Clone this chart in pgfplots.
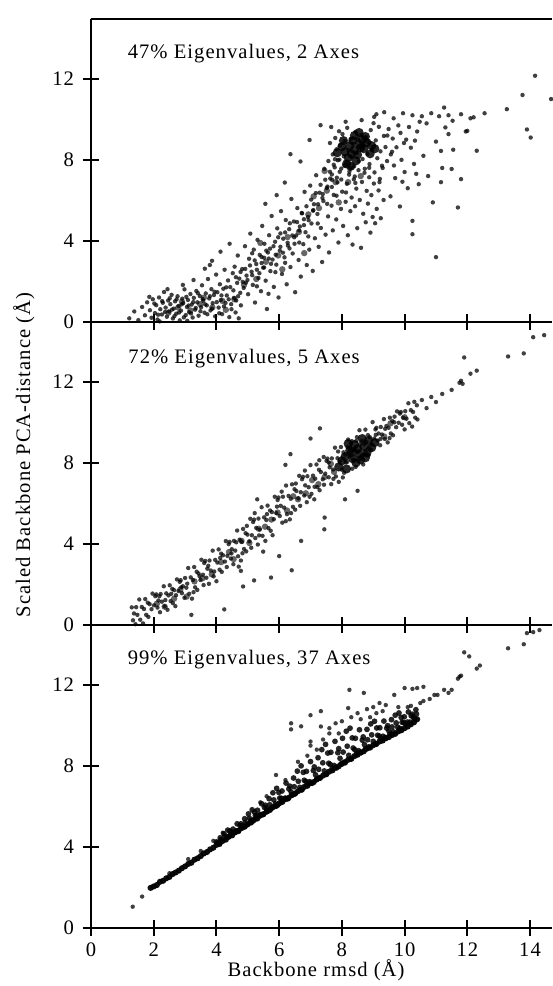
\documentclass[border=0pt]{standalone}
\usepackage{fontspec}
\setmainfont{Liberation Serif}[LetterSpace=5]
\usepackage{pgfplots}
\usepackage{pgfplotstable}
\pgfplotsset{compat=1.18}

% panel 1: 47% eigenvalues, 2 axes
\pgfplotstableread{
x y
1.22 0.18
1.38 0.52
1.51 0.09
1.63 0.74
1.72 0.33
1.79 0.97
1.88 0.58
1.93 0.21
1.97 1.12
2.04 0.44
2.08 0.83
2.12 0.12
2.17 1.21
2.21 0.63
2.26 0.37
2.29 0.95
2.33 1.48
2.38 0.71
2.42 0.26
2.46 1.06
2.49 0.52
2.53 0.88
2.57 1.34
2.61 0.17
2.64 0.66
2.68 1.02
2.72 0.41
2.76 1.27
2.79 0.79
2.83 0.08
2.87 0.56
2.91 1.15
2.94 0.93
2.98 1.61
3.02 0.34
3.06 0.74
3.09 1.09
3.13 0.48
3.17 1.38
3.21 0.86
3.24 0.22
3.28 1.19
3.32 0.61
3.36 1.53
3.39 0.97
3.43 0.31
3.47 1.28
3.51 0.73
3.54 1.81
3.58 1.04
3.62 0.46
3.66 1.41
3.69 0.82
3.73 2.12
3.77 1.16
3.81 0.57
3.84 1.62
3.88 0.93
3.92 1.33
3.96 0.28
3.99 2.34
4.03 1.47
4.07 0.71
4.11 1.86
4.14 1.08
4.18 0.39
4.22 1.64
4.26 2.58
4.29 0.94
4.33 1.31
4.37 2.05
4.41 0.24
4.44 1.72
4.48 0.63
4.52 2.41
4.56 1.19
4.61 0.47
4.66 1.93
4.71 0.18
4.76 1.44
2.44 1.62
2.93 1.83
3.27 2.07
3.63 2.63
3.07 0.06
2.19 0.03
1.86 1.24
3.86 3.02
4.13 3.47
3.79 2.81
4.58 2.73
4.63 1.06
4.68 3.28
4.73 2.14
4.78 0.82
4.82 2.61
4.87 1.68
4.91 3.74
4.96 2.29
5.01 1.37
5.04 3.12
5.08 4.36
5.12 2.48
5.16 1.83
5.19 3.57
5.23 0.96
5.27 2.86
5.31 4.05
5.34 2.17
5.38 3.31
5.42 1.52
5.46 4.74
5.49 2.68
5.53 3.86
5.57 2.04
5.61 0.64
5.64 3.43
5.68 4.28
5.72 2.51
5.76 5.23
5.79 3.08
5.83 1.73
5.87 3.96
5.91 2.83
5.94 4.62
5.98 1.21
6.02 3.52
6.06 5.47
6.09 2.37
6.13 4.11
6.17 3.19
6.21 5.03
6.24 1.86
6.28 3.77
6.32 4.58
6.36 2.71
6.39 6.07
6.43 3.38
6.47 4.96
6.51 1.47
6.54 4.27
6.58 5.62
6.62 3.06
6.66 4.71
6.69 2.24
6.73 5.36
6.77 3.84
6.81 6.42
6.84 4.43
6.88 2.81
6.92 5.18
6.96 3.57
6.99 6.73
7.03 4.86
7.07 2.52
7.11 5.81
7.14 4.13
7.18 7.24
7.22 5.33
7.26 3.71
7.29 6.38
7.33 4.64
7.37 2.96
7.41 5.97
7.44 7.56
7.48 4.31
7.52 6.61
7.56 5.21
7.59 3.43
7.63 7.08
7.67 5.74
7.71 4.52
7.74 6.27
7.78 8.03
7.82 5.06
7.86 6.89
7.89 3.92
7.93 7.41
7.97 5.58
8.01 6.43
8.04 4.74
8.08 7.71
8.12 5.93
8.16 6.82
8.19 4.28
8.23 7.27
8.27 5.47
8.31 6.14
8.34 3.82
8.38 7.04
8.42 5.71
8.46 6.58
8.49 4.63
8.53 7.49
8.57 6.02
8.61 3.66
8.64 6.91
8.68 5.34
8.72 7.36
8.76 4.92
8.79 6.47
8.83 5.84
8.87 7.14
8.91 4.41
8.94 6.26
8.98 5.18
9.02 6.83
9.06 4.87
9.11 5.58
9.17 6.49
9.24 5.12
9.33 6.02
5.52 3.17
5.71 3.62
5.88 2.46
6.04 4.37
6.19 2.92
6.33 3.63
6.48 4.18
6.64 3.92
6.79 5.07
6.93 4.22
7.08 5.49
7.23 4.86
7.38 6.12
7.53 5.83
7.68 6.66
7.83 6.23
7.98 7.03
8.13 6.39
8.28 7.58
8.43 6.86
4.94 1.94
5.14 3.39
5.29 1.76
5.44 2.91
5.66 1.39
6.36 8.28
6.68 7.92
6.97 8.98
7.32 9.71
5.92 6.26
6.18 6.88
5.56 5.83
4.42 3.86
7.62 8.83
7.66 9.62
7.71 8.27
7.74 7.76
7.79 9.08
7.83 8.52
7.87 7.98
7.91 9.41
7.94 8.71
7.98 7.57
8.02 9.27
8.06 8.18
8.09 8.93
8.13 7.84
8.17 9.58
8.21 8.46
8.24 7.42
8.28 9.03
8.32 8.12
8.36 8.79
8.39 7.68
8.43 9.38
8.47 8.33
8.51 9.02
8.54 7.93
8.58 8.61
8.62 9.24
8.66 8.04
8.69 8.73
8.73 7.56
8.77 9.12
8.81 8.29
8.84 8.87
8.88 7.79
8.92 9.47
8.96 8.49
9.01 9.81
9.04 7.38
9.08 8.96
9.13 8.08
9.18 9.63
9.23 8.42
9.28 7.71
9.34 9.18
9.39 8.63
9.44 7.94
9.49 9.52
9.56 8.27
8.12 9.88
8.63 9.96
9.03 10.12
7.57 7.94
7.68 7.28
8.41 7.18
8.87 7.61
9.21 7.06
9.10 10.25
9.20 6.90
9.30 7.60
9.35 10.35
9.45 9.20
9.55 6.20
9.60 8.40
9.65 10.05
9.70 7.10
9.80 9.70
9.85 5.70
9.90 8.00
9.95 10.30
10.00 7.40
10.05 9.00
10.10 6.60
10.20 8.60
10.25 10.20
10.30 7.80
10.25 4.99
10.25 4.33
10.40 9.40
10.45 6.80
10.55 10.15
10.60 8.20
10.70 9.80
10.75 7.20
10.85 10.30
10.90 5.90
11.00 8.90
11.10 10.15
11.20 7.60
11.30 9.60
11.40 10.20
11.55 8.50
11.70 5.65
11.80 10.25
11.95 9.40
12.10 10.05
12.30 8.45
11.00 3.20
11.26 10.58
11.53 9.93
11.16 6.90
11.50 7.55
11.80 7.05
12.00 9.43
12.20 10.10
11.16 8.44
11.40 9.27
12.55 10.30
13.26 10.50
13.76 11.20
14.16 12.15
14.67 11.00
13.90 9.50
14.02 9.10
2.02 0.91
2.14 0.36
2.27 1.03
2.36 0.49
2.51 1.17
2.58 0.61
2.66 0.29
2.73 1.12
2.81 0.47
2.89 0.87
2.96 0.23
3.04 1.24
3.11 0.81
3.19 0.42
3.26 0.98
3.34 0.69
3.41 1.42
3.49 0.53
3.56 1.13
3.64 0.87
3.71 0.38
3.79 1.27
3.86 0.66
3.94 1.49
4.01 0.98
4.09 0.43
4.16 1.31
4.24 0.77
4.31 1.71
4.39 1.12
4.47 0.88
4.54 1.56
4.62 2.21
4.69 1.27
4.77 2.47
4.84 1.98
4.92 2.62
4.99 2.07
5.07 2.79
5.14 2.31
5.22 3.04
5.29 2.58
5.37 2.41
5.44 3.21
5.52 2.69
5.59 3.52
5.67 3.13
5.74 2.87
5.82 3.74
5.89 3.32
5.97 4.18
6.04 3.71
6.12 3.42
6.19 4.42
6.27 3.91
6.34 4.87
6.42 4.27
6.49 3.86
6.57 4.93
6.64 4.52
6.72 5.38
6.79 4.78
6.87 5.71
6.94 5.02
7.02 6.04
7.09 5.52
7.17 6.36
7.24 5.81
7.32 6.77
7.39 6.31
7.47 7.02
7.54 6.68
7.62 7.41
7.69 7.01
7.77 7.63
7.84 7.12
7.92 8.01
9.62 9.05
9.74 8.62
9.87 9.33
9.98 8.83
10.14 9.62
10.33 8.95
10.48 9.88
9.66 7.72
9.93 6.92
10.37 7.31
}\panelA

\pgfplotstableread{
x y
8.10 8.40
8.25 8.70
8.40 8.50
8.55 8.80
8.70 8.55
8.35 8.95
8.50 8.25
8.65 9.00
8.80 8.85
8.20 8.10
8.45 7.95
8.90 8.30
8.00 8.65
8.60 8.60
8.30 8.30
8.75 9.15
8.15 7.80
8.40 9.20
8.95 8.70
8.05 8.95
7.85 8.35
9.05 8.55
8.55 9.35
8.28 7.68
}\panelAcore

\pgfplotstableread{
x y
7.52 6.48
7.27 5.62
6.93 5.31
6.63 4.44
6.27 4.19
5.97 3.28
5.58 2.97
5.27 2.12
4.88 1.83
4.57 1.12
4.19 1.04
3.87 0.72
3.48 0.88
3.17 0.57
2.78 0.71
2.47 0.46
7.80 6.90
7.45 7.45
6.10 2.60
6.80 3.40
7.10 6.20
5.40 3.90
2.90 1.00
3.60 1.20
4.30 0.60
7.90 5.90
8.20 6.90
8.60 7.20
}\panelAmid

% panel 2: 72% eigenvalues, 5 axes
\pgfplotstableread{
x y
1.30 0.87
1.34 0.23
1.37 0.57
1.42 0.04
1.44 0.88
1.48 0.50
1.54 1.26
1.57 0.26
1.62 0.89
1.66 0.08
1.69 0.79
1.73 1.28
1.76 0.50
1.81 1.10
1.83 0.40
1.87 1.03
1.93 0.78
1.96 1.55
2.01 0.97
2.05 1.42
2.08 1.51
2.12 0.86
2.15 1.21
2.20 0.63
2.22 1.53
2.26 1.15
2.32 1.91
2.35 0.92
2.40 1.56
2.44 0.75
2.47 1.46
2.51 1.96
2.54 1.18
2.59 1.78
2.61 1.08
2.65 1.72
2.71 1.47
2.74 2.25
2.79 1.68
2.83 2.13
2.86 2.21
2.90 1.57
2.93 1.91
2.98 1.34
3.00 2.32
3.04 1.84
3.10 2.81
3.13 1.54
3.18 2.35
3.22 1.30
3.25 2.22
3.29 2.86
3.32 1.86
3.37 2.63
3.39 1.73
3.43 2.54
3.49 2.22
3.52 3.22
3.57 2.48
3.61 3.06
3.64 3.16
3.68 2.33
3.71 2.78
3.76 2.03
3.78 3.18
3.82 2.69
3.88 3.67
3.91 2.40
3.96 3.21
4.00 2.16
4.03 3.08
4.07 3.73
4.10 2.73
4.15 3.52
4.17 2.62
4.21 3.44
4.27 3.13
4.30 4.14
4.35 3.41
4.39 3.99
4.42 4.10
4.46 3.28
4.49 3.74
4.54 3.00
4.56 4.15
4.60 3.67
4.66 4.66
4.69 3.39
4.74 4.21
4.78 3.18
4.81 4.10
4.85 4.74
4.88 3.75
4.93 4.53
4.95 3.63
4.99 4.46
5.05 4.13
5.08 5.24
5.13 4.43
5.17 5.08
5.20 5.20
5.24 4.29
5.27 4.79
5.32 3.97
5.34 5.25
5.38 4.71
5.44 5.81
5.47 4.40
5.52 5.31
5.56 4.15
5.59 5.18
5.63 5.89
5.66 4.78
5.71 5.65
5.73 4.65
5.77 5.57
5.83 5.22
5.86 6.33
5.91 5.52
5.95 6.17
5.98 6.29
6.02 5.38
6.05 5.88
6.10 5.05
6.12 6.33
6.16 5.79
6.22 6.88
6.25 5.47
6.30 6.37
6.34 5.21
6.37 6.23
6.41 6.94
6.44 5.83
6.49 6.70
6.51 5.69
6.55 6.61
6.61 6.25
6.64 7.36
6.69 6.55
6.73 7.19
6.76 7.31
6.80 6.39
6.83 6.89
6.88 6.06
6.90 7.34
6.94 6.80
7.00 7.89
7.03 6.47
7.08 7.37
7.12 6.20
7.15 7.22
7.19 7.92
7.22 6.80
7.27 7.66
7.29 6.65
7.33 7.55
7.39 7.19
7.42 8.29
7.47 7.47
7.51 8.10
7.54 8.21
7.58 7.29
7.61 7.78
7.66 6.95
7.68 8.22
7.72 7.67
7.78 8.75
7.81 7.33
7.86 8.23
7.90 7.06
7.93 8.07
7.97 8.78
8.00 7.66
8.05 8.52
8.07 7.51
8.11 8.41
8.17 8.05
8.20 9.15
8.25 8.33
8.29 8.96
8.32 9.07
8.36 8.15
8.39 8.64
8.44 7.80
8.46 9.08
8.50 8.53
8.56 9.61
8.59 8.19
8.64 9.08
8.68 7.92
8.71 8.93
8.75 9.64
8.78 8.52
8.83 9.37
8.85 8.37
8.89 9.27
8.95 8.91
8.98 10.01
9.03 9.20
9.07 9.65
9.10 9.73
9.14 9.10
9.17 9.45
9.22 8.87
9.24 9.77
9.28 9.40
9.34 10.16
9.37 9.18
9.42 9.82
9.46 9.01
9.49 9.73
9.53 10.23
9.56 9.45
9.61 10.06
9.63 9.36
9.67 10.00
9.73 9.76
9.76 10.54
9.81 9.98
9.85 10.43
9.88 10.51
9.92 9.88
9.95 10.23
10.00 9.65
10.02 10.55
10.06 10.18
10.12 10.94
10.15 9.96
10.20 10.60
10.24 9.79
10.27 10.51
10.31 11.01
10.34 10.23
10.39 10.84
10.41 10.14
10.55 11.10
10.70 10.70
10.85 11.25
11.00 11.00
11.20 11.40
11.50 11.60
11.75 11.95
11.80 12.05
11.85 11.90
12.10 12.40
12.30 12.55
11.90 13.20
13.30 13.25
13.80 13.40
14.10 14.20
14.45 14.30
6.36 8.43
7.00 9.20
7.30 9.70
6.20 7.90
5.30 6.20
6.40 2.70
5.74 2.34
6.70 4.15
7.44 4.72
8.50 6.62
7.45 5.30
8.10 6.20
6.00 3.40
4.85 1.90
5.20 2.20
4.25 0.77
3.20 0.50
4.78 2.67
2.18 1.42
2.37 1.23
2.56 1.54
2.69 0.93
2.88 1.86
3.07 2.04
3.27 1.62
3.46 2.41
3.59 1.97
3.74 2.92
3.93 2.64
4.12 3.31
4.33 2.86
4.48 3.53
4.63 4.08
4.71 2.88
4.83 3.54
4.97 4.89
5.11 3.81
5.22 5.52
5.36 4.42
5.49 3.62
5.61 5.47
5.79 4.43
5.93 5.84
6.08 6.58
6.21 5.12
6.38 5.52
6.53 6.98
6.67 5.88
6.82 7.62
6.97 6.33
7.13 6.82
7.28 8.13
7.43 6.92
7.58 8.02
7.73 7.21
7.88 8.56
8.03 7.28
8.18 8.77
8.33 7.71
8.48 9.27
8.63 8.36
8.78 9.02
8.93 8.64
9.08 9.38
9.23 9.18
9.38 9.68
9.52 9.22
9.68 10.28
8.42 8.68
8.57 8.92
8.72 8.41
8.87 8.73
8.27 8.76
8.12 8.02
}\panelB

\pgfplotstableread{
x y
8.10 8.30
8.25 8.60
8.40 8.90
8.55 8.45
8.70 8.80
8.85 9.10
8.35 8.20
8.50 8.70
8.65 9.20
8.80 8.50
8.20 8.95
8.95 8.75
8.00 8.10
8.45 8.00
8.60 8.15
7.90 7.80
8.30 8.50
8.75 8.25
9.05 9.00
8.15 7.70
}\panelBcore

\pgfplotstableread{
x y
5.05 4.05
5.35 4.75
5.55 4.85
5.95 5.55
6.25 5.65
6.45 6.35
6.85 6.50
7.05 7.15
7.45 7.30
7.65 7.95
4.55 3.25
4.15 3.10
3.85 2.50
3.55 2.30
3.05 1.40
2.65 1.30
2.35 0.90
9.35 9.30
9.55 9.95
10.00 10.25
2.10 1.05
2.85 1.75
3.30 2.15
4.40 3.60
4.80 4.15
5.75 5.20
6.60 6.20
7.25 6.95
7.75 7.55
}\panelBmid

% panel 3: 99% eigenvalues, 37 axes
\pgfplotstableread{
x y
1.33 1.05
1.63 1.55
2.50 2.70
3.10 3.40
3.50 3.80
3.90 4.30
4.20 4.70
5.40 6.20
5.60 6.50
5.90 7.55
6.20 7.30
6.38 10.10
6.38 9.80
6.60 8.20
6.70 9.95
6.90 8.50
7.00 9.20
7.00 9.00
7.00 10.50
7.20 8.80
7.33 10.70
7.33 9.94
7.40 9.30
7.60 9.86
7.60 9.60
7.80 10.10
7.90 9.60
8.00 10.20
8.20 10.85
8.24 11.75
8.30 10.40
8.50 10.60
8.60 10.30
8.70 11.60
8.80 10.80
8.90 10.40
9.00 10.90
9.10 10.60
9.20 11.10
9.30 10.70
9.40 11.00
9.67 11.50
9.80 10.90
10.00 11.84
10.10 10.90
10.20 10.96
10.25 11.80
10.40 11.84
10.50 11.10
10.60 11.90
10.60 11.20
10.80 11.30
10.95 11.50
11.05 11.50
11.26 11.75
11.50 11.75
11.40 11.60
11.70 12.30
11.75 12.40
11.80 12.45
11.90 13.60
12.06 13.40
12.30 12.80
12.40 12.95
13.30 13.80
13.80 14.00
13.90 14.55
14.10 14.60
14.30 14.70
}\panelC

\pgfplotstableread{
x y
4.00 4.25
4.04 4.21
4.07 4.18
4.12 4.45
4.14 4.35
4.18 4.29
4.24 4.65
4.27 4.53
4.32 4.48
4.36 4.83
4.39 4.49
4.43 4.79
4.46 4.69
4.51 4.71
4.53 4.88
4.57 4.71
4.63 4.79
4.66 5.14
4.71 4.82
4.75 5.06
4.78 5.14
4.82 5.03
4.85 4.97
4.90 5.39
4.92 5.20
4.96 5.08
5.02 5.63
5.05 5.41
5.10 5.30
5.14 5.83
5.17 5.28
5.21 5.72
5.24 5.54
5.29 5.55
5.31 5.81
5.35 5.51
5.41 5.60
5.44 6.13
5.49 5.60
5.53 5.95
5.56 6.06
5.60 5.88
5.63 5.76
5.68 6.38
5.70 6.08
5.74 5.88
5.80 6.67
5.83 6.32
5.88 6.12
5.92 6.89
5.95 6.06
5.99 6.69
6.02 6.41
6.07 6.40
6.09 6.76
6.13 6.32
6.19 6.41
6.22 7.15
6.27 6.37
6.31 6.86
6.34 7.00
6.38 6.72
6.41 6.55
6.46 7.40
6.48 6.97
6.52 6.65
6.58 7.74
6.61 7.24
6.66 6.94
6.70 8.00
6.73 6.82
6.77 7.68
6.80 7.29
6.85 7.23
6.87 7.73
6.91 7.10
6.97 7.22
7.00 8.21
7.05 7.14
7.09 7.77
7.12 7.95
7.16 7.56
7.19 7.32
7.24 8.40
7.26 7.83
7.30 7.42
7.36 8.80
7.39 8.15
7.44 7.75
7.48 9.06
7.51 7.58
7.55 8.63
7.58 8.13
7.63 8.07
7.65 8.67
7.69 7.88
7.75 8.02
7.78 9.21
7.83 7.90
7.87 8.65
7.90 8.85
7.94 8.37
7.97 8.09
8.02 9.36
8.04 8.68
8.08 8.19
8.14 9.71
8.17 8.97
8.22 8.52
8.26 9.86
8.29 8.34
8.33 9.38
8.36 8.88
8.41 8.80
8.43 9.36
8.47 8.63
8.53 8.75
8.56 9.78
8.61 8.65
8.65 9.27
8.68 9.43
8.72 9.05
8.75 8.83
8.80 9.80
8.82 9.29
8.86 8.94
8.92 10.07
8.95 9.53
9.00 9.21
9.04 10.20
9.07 9.09
9.11 9.87
9.14 9.51
9.19 9.47
9.21 9.88
9.25 9.35
9.31 9.46
9.34 10.21
9.39 9.40
9.43 9.86
9.46 9.98
9.50 9.72
9.53 9.57
9.58 10.28
9.60 9.92
9.64 9.68
9.70 10.50
9.73 10.12
9.78 9.91
9.82 10.61
9.85 9.85
9.89 10.39
9.92 10.15
9.97 10.14
9.99 10.42
10.03 10.07
10.09 10.16
10.12 10.66
10.17 10.16
10.21 10.47
10.24 10.55
10.28 10.40
10.31 10.32
10.36 10.77
10.38 10.56
}\panelCfan

\pgfplotstableread{
x y
1.90 1.98
2.00 2.05
2.10 2.12
2.20 2.28
2.30 2.33
2.40 2.45
2.50 2.52
2.60 2.66
2.70 2.74
2.80 2.83
2.90 2.95
3.00 3.04
3.10 3.16
3.20 3.22
3.30 3.37
3.40 3.44
3.50 3.55
3.60 3.68
3.70 3.75
3.80 3.88
3.90 3.96
4.00 4.10
4.10 4.15
4.20 4.30
4.30 4.36
4.40 4.52
4.50 4.57
4.60 4.72
4.70 4.78
4.80 4.93
4.90 5.00
5.00 5.12
5.10 5.20
5.20 5.34
5.30 5.40
5.40 5.55
5.50 5.62
5.60 5.74
5.70 5.82
5.80 5.96
5.90 6.02
6.00 6.15
6.10 6.22
6.20 6.36
6.30 6.42
6.40 6.56
6.50 6.62
6.60 6.75
6.70 6.82
6.80 6.96
6.90 7.02
7.00 7.15
7.10 7.20
7.20 7.34
7.30 7.40
7.40 7.52
7.50 7.60
7.60 7.72
7.70 7.78
7.80 7.92
7.90 7.98
8.00 8.10
8.10 8.16
8.20 8.30
8.30 8.35
8.40 8.48
8.50 8.55
8.60 8.66
8.70 8.72
8.80 8.85
8.90 8.90
9.00 9.02
9.10 9.08
9.20 9.20
9.30 9.25
9.40 9.36
9.50 9.42
9.60 9.52
9.70 9.58
9.80 9.70
9.90 9.76
10.00 9.86
10.10 9.94
10.20 10.05
10.30 10.15
10.40 10.30
}\panelCband

\pgfplotsset{
  panel/.style={
    scale only axis,
    width=230.5pt, height=151.5pt,
    xmin=0, xmax=14.7, ymin=0, ymax=14.95,
    axis x line=box, axis y line=left,
    y axis line style={-},
    axis line style={line width=1pt},
    xtick={0,2,...,14}, ytick={0,4,8,12},
    xtick pos=left,
    tick align=center,
    major tick length=8pt,
    major tick style={line width=1pt, black},
    /pgf/number format/assume math mode=true,
    yticklabel style={xshift=-1pt},
    clip=true,
  },
  dots/.style={only marks, mark=*, mark size=1.1pt,
    mark options={draw opacity=0, fill=black, fill opacity=0.75}},
  middots/.style={only marks, mark=*, mark size=1.6pt,
    mark options={draw opacity=0, fill=black, fill opacity=0.6}},
  bigdots/.style={only marks, mark=*, mark size=2.3pt,
    mark options={draw opacity=0, fill=black, fill opacity=0.85}},
  fandots/.style={only marks, mark=*, mark size=1.45pt,
    mark options={draw opacity=0, fill=black, fill opacity=0.85}},
  banddots/.style={only marks, mark=*, mark size=1.55pt,
    mark options={draw opacity=0, fill=black, fill opacity=0.95}},
}

\begin{document}
\begin{tikzpicture}[font=\fontsize{10.3pt}{12pt}\selectfont]
\begin{axis}[panel, at={(0,303pt)}, anchor=south west, xticklabels={}]
\addplot[dots] table {\panelA};
\addplot[middots] table {\panelAmid};
\addplot[bigdots] table {\panelAcore};
\node[anchor=base west] at (axis cs:0.95,13.0) {47\% Eigenvalues, 2 Axes};
\end{axis}
\begin{axis}[panel, at={(0,151.5pt)}, anchor=south west, xticklabels={}]
\addplot[dots] table {\panelB};
\addplot[middots] table {\panelBmid};
\addplot[bigdots] table {\panelBcore};
\node[anchor=base west] at (axis cs:0.97,12.9) {72\% Eigenvalues, 5 Axes};
\end{axis}
\begin{axis}[panel, at={(0,0)}, anchor=south west]
\addplot[dots] table {\panelC};
\addplot[fandots] table {\panelCfan};
\addplot[banddots] table {\panelCband};
\node[anchor=base west] at (axis cs:0.95,13.0) {99\% Eigenvalues, 37 Axes};
\end{axis}
\node[rotate=90] at (-33.5pt,236.5pt) {Scaled Backbone PCA-distance (Å)};
\node at (112.5pt,-21pt) {Backbone rmsd (Å)};
\pgfresetboundingbox
\path (-45.5pt,-29pt) rectangle (230.5pt,464pt);
\end{tikzpicture}
\end{document}
